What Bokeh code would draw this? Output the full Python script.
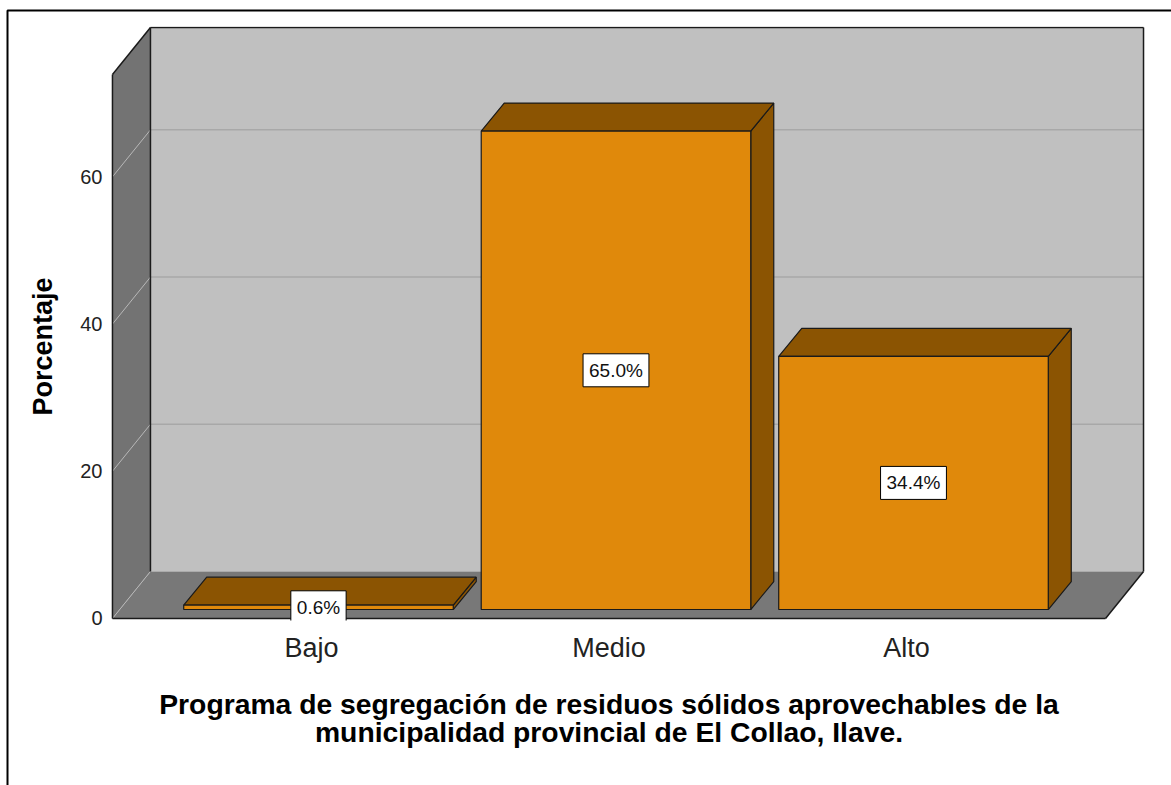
from math import pi

from bokeh.core.properties import value
from bokeh.embed import file_html
from bokeh.models import ColumnDataSource, FixedTicker, Label, Range1d
from bokeh.plotting import figure
from bokeh.resources import INLINE

# ---- data -------------------------------------------------------------
categories = ["Bajo", "Medio", "Alto"]
percentages = [0.6, 65.0, 34.4]
value_labels = ["0.6%", "65.0%", "34.4%"]
y_ticks = [0, 20, 40, 60]
y_tick_labels = ["0", "20", "40", "60"]
axis_title = "Porcentaje"
title_lines = [
    "Programa de segregación de residuos sólidos aprovechables de la",
    "municipalidad provincial de El Collao, Ilave.",
]

# ---- 3D box geometry (data units: x = category, y = percent) -----------
Y_TOP = 73.9                      # height of the axis box
X_LEFT, X_RIGHT = 0.331, 3.669    # front plane extent
DEPTH_X, DEPTH_Y = 0.1277, 6.39   # oblique depth of the box
BAR_OFF_X, BAR_OFF_Y = 0.0235, 1.22   # bar front face set back from front plane
BAR_DX, BAR_DY = 0.0773, 3.80         # bar depth
BAR_HALF = 0.453                      # half width of a bar

FONT = "Liberation Sans"
WALL_BACK = "#C0C0C0"
WALL_SIDE = "#737373"
FLOOR = "#787878"
BAR_FRONT = "#E0890B"
BAR_SHADE = "#8B5402"
EDGE = "#1A1A1A"

p = figure(
    width=1171, height=785,
    x_range=Range1d(0.3244, 3.8067), y_range=Range1d(-0.272, 80.43),
    output_backend="svg", toolbar_location=None,
    min_border_left=110, min_border_right=25,
    min_border_top=26, min_border_bottom=165,
    background_fill_color="white", border_fill_color="white",
)
p.outline_line_color = None
p.grid.visible = False

# walls and floor
bx0, bx1 = X_LEFT + DEPTH_X, X_RIGHT + DEPTH_X
p.patch([bx0, bx1, bx1, bx0], [DEPTH_Y, DEPTH_Y, Y_TOP + DEPTH_Y, Y_TOP + DEPTH_Y],
        fill_color=WALL_BACK, line_color=None)
p.patch([X_LEFT, bx0, bx0, X_LEFT], [0, DEPTH_Y, Y_TOP + DEPTH_Y, Y_TOP],
        fill_color=WALL_SIDE, line_color=None)
p.patch([X_LEFT, X_RIGHT, bx1, bx0], [0, 0, DEPTH_Y, DEPTH_Y],
        fill_color=FLOOR, line_color=None)

# gridlines on the back wall and on the side wall
grid_vals = [v for v in y_ticks if v > 0]
p.multi_line([[bx0, bx1] for v in grid_vals],
             [[v + DEPTH_Y, v + DEPTH_Y] for v in grid_vals],
             line_color="#A8A8A8", line_width=1.5)
p.multi_line([[X_LEFT, bx0] for v in y_ticks],
             [[v, v + DEPTH_Y] for v in y_ticks],
             line_color="#B8B8B8", line_width=1)

# box edges
edges_x = [
    [X_LEFT, X_LEFT], [X_LEFT, bx0], [bx0, bx1], [bx1, bx1],
    [bx0, bx0], [bx1, X_RIGHT], [X_LEFT, X_RIGHT],
]
edges_y = [
    [0, Y_TOP], [Y_TOP, Y_TOP + DEPTH_Y], [Y_TOP + DEPTH_Y, Y_TOP + DEPTH_Y],
    [Y_TOP + DEPTH_Y, DEPTH_Y], [DEPTH_Y, Y_TOP + DEPTH_Y], [DEPTH_Y, 0], [0, 0],
]
p.multi_line(edges_x, edges_y, line_color=EDGE, line_width=1.5)

# bars: front face, top face and right side
front_xs, front_ys, top_xs, top_ys, side_xs, side_ys = [], [], [], [], [], []
for i, v in enumerate(percentages):
    c = i + 1 + BAR_OFF_X
    l, r = c - BAR_HALF, c + BAR_HALF
    b, t = BAR_OFF_Y, BAR_OFF_Y + v
    front_xs.append([l, r, r, l])
    front_ys.append([b, b, t, t])
    top_xs.append([l, r, r + BAR_DX, l + BAR_DX])
    top_ys.append([t, t, t + BAR_DY, t + BAR_DY])
    side_xs.append([r, r + BAR_DX, r + BAR_DX, r])
    side_ys.append([b, b + BAR_DY, t + BAR_DY, t])

bars = ColumnDataSource(dict(front_xs=front_xs, front_ys=front_ys,
                             top_xs=top_xs, top_ys=top_ys,
                             side_xs=side_xs, side_ys=side_ys))
p.patches("side_xs", "side_ys", source=bars, fill_color=BAR_SHADE,
          line_color=EDGE, line_width=1.2)
p.patches("top_xs", "top_ys", source=bars, fill_color=BAR_SHADE,
          line_color=EDGE, line_width=1.2)
p.patches("front_xs", "front_ys", source=bars, fill_color=BAR_FRONT,
          line_color=EDGE, line_width=1.2)

# value labels in white boxes
for i, (v, txt) in enumerate(zip(percentages, value_labels)):
    p.add_layout(Label(
        x=i + 1 + BAR_OFF_X, y=BAR_OFF_Y + v / 2, text=txt,
        text_align="center", text_baseline="middle",
        text_font=FONT, text_font_size="19px", text_color="#111111",
        background_fill_color="white", border_line_color="black",
        border_line_width=1, padding=6,
    ))

# axes
p.yaxis.ticker = FixedTicker(ticks=y_ticks)
p.yaxis.major_label_overrides = dict(zip(y_ticks, y_tick_labels))
p.xaxis.ticker = FixedTicker(ticks=[1, 2, 3])
p.xaxis.major_label_overrides = {i + 1: c for i, c in enumerate(categories)}
for ax in (p.xaxis, p.yaxis):
    ax.axis_line_color = None
    ax.major_tick_line_color = None
    ax.minor_tick_line_color = None
    ax.major_tick_out = 0
    ax.major_tick_in = 0
    ax.major_label_text_font = FONT
    ax.major_label_text_color = "#222222"
p.yaxis.major_label_text_font_size = "20px"
p.yaxis.major_label_standoff = 8
p.xaxis.major_label_text_font_size = "27px"
p.xaxis.major_label_standoff = 12

# y axis title, drawn on the overlay level so it sits left of the frame
p.text(x=[0.099], y=[Y_TOP / 2], text=[axis_title], angle=pi / 2,
       text_align="center", text_baseline="middle",
       text_font=value(FONT), text_font_size=value("27px"),
       text_font_style="bold", text_color="black", level="overlay")

# chart title below the categories
p.text(x=[2.0, 2.0], y=[-11.55, -15.4], text=title_lines,
       text_align="center", text_baseline="alphabetic",
       text_font=value(FONT), text_font_size=value("28.3px"),
       text_font_style="bold", text_color="black", level="overlay")

# outer frame around the chart
p.multi_line([[-0.0218, -0.0218, 3.95]], [[-25.0, 82.6, 82.6]],
             line_color="black", line_width=2, level="overlay")

open("out.html", "w").write(file_html(p, INLINE))
